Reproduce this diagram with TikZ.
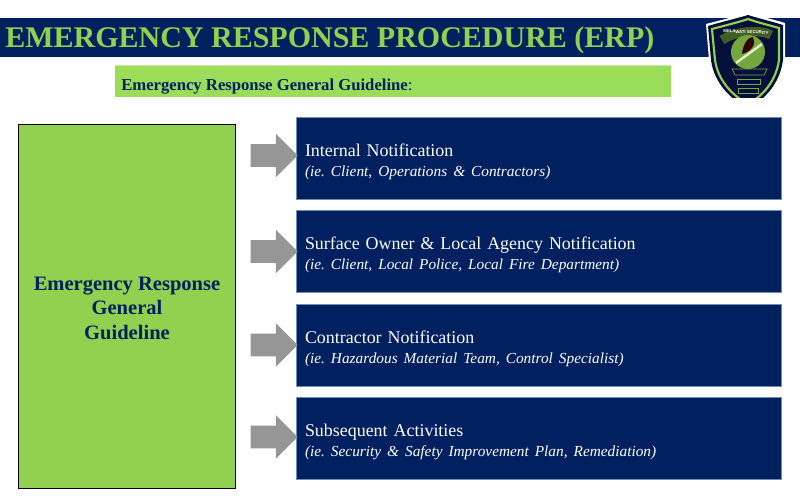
\documentclass[tikz,border=0pt]{standalone}
\usepackage{fontspec}
\setmainfont{Liberation Serif}
\setsansfont{Liberation Sans}
\usetikzlibrary{shapes.arrows}
\definecolor{navy}{HTML}{002060}
\definecolor{leaf}{HTML}{92D050}
\definecolor{leaflight}{HTML}{9BDC58}
\definecolor{edgeblue}{HTML}{6F8DB5}
\definecolor{crest}{HTML}{05103A}
\frenchspacing
\begin{document}
\begin{tikzpicture}[
x=0.75pt,y=-0.75pt,
banner/.style={rectangle,fill=navy,draw=none,inner sep=0pt,minimum width=600pt,minimum height=29.25pt},
heading/.style={font=\bfseries\fontsize{22.5}{26}\selectfont,text=leaf,inner sep=0pt,anchor=base west},
subbar/.style={rectangle,fill=leaflight,draw=none,inner sep=0pt,minimum width=417pt,minimum height=23.25pt},
guide/.style={rectangle,fill=leaf,draw=black,semithick,inner sep=0pt,minimum width=162.75pt,minimum height=273pt,align=center,text=navy,font=\bfseries\fontsize{15.4}{18.6}\selectfont},
notice/.style={rectangle,fill=navy,draw=edgeblue,semithick,inner sep=0pt,minimum width=363.75pt,minimum height=61.5pt,text width=350.25pt,align=left,text=white,font=\fontsize{13.45}{15}\selectfont},
flow/.style={single arrow,fill=black!41,draw=none,inner xsep=0pt,inner ysep=8.25pt,single arrow head extend=7.9pt,single arrow tip angle=90,minimum height=35.25pt},
ribbon/.style={draw=leaf!80!black,fill=crest,line width=0.5pt}
]
\useasboundingbox (0,0) rectangle (800,500);
\node[banner] (bar) at (400,37.5) {};
\node[heading] (title) at (5,47.5) {EMERGENCY RESPONSE PROCEDURE (ERP)};
\node[subbar] (sub) at (393,81.5) {};
\draw[leaflight!55!white,line width=1pt] (sub.north west) -- (sub.north east);
\node[anchor=base west,inner sep=0pt,text=navy,font=\fontsize{12.5}{14}\selectfont] (subtext) at (121,90) {\textbf{Emergency Response General Guideline}:};

\node[guide] (main) at (127,306) {\rule{0pt}{13.5pt}Emergency Response\\General\\Guideline};

\node[notice] (n1) at (538.5,158.5) {\rule{0pt}{14.5pt}Internal Notification\\{\itshape\fontsize{11.5}{13}\selectfont (ie. Client, Operations \& Contractors)}};
\node[notice] (n2) at (538.5,251.5) {\rule{0pt}{14.5pt}Surface Owner \& Local Agency Notification\\{\itshape\fontsize{11.5}{13}\selectfont (ie. Client, Local Police, Local Fire Department)}};
\node[notice] (n3) at (538.5,345) {\rule{0pt}{14.5pt}Contractor Notification\\{\itshape\fontsize{11.5}{13}\selectfont (ie. Hazardous Material Team, Control Specialist)}};
\node[notice] (n4) at (538.5,438) {\rule{0pt}{14.5pt}Subsequent Activities\\{\itshape\fontsize{11.5}{13}\selectfont (ie. Security \& Safety Improvement Plan, Remediation)}};

\node[flow] (a1) at (268.5,155.5) {};
\node[flow] (a2) at (268.5,251.5) {};
\node[flow] (a3) at (268.5,345) {};
\node[flow] (a4) at (268.5,437) {};

% crest
\begin{scope}
\clip (700,0) rectangle (800,97);
\fill[white] (706,24) .. controls (725,19) and (742,15) .. (748,13) .. controls (754,15) and (772,19) .. (785,23) -- (785,60) .. controls (782,85) and (765,102) .. (748,110) .. controls (731,102) and (712,85) .. (709,60) -- cycle;
\fill[crest] (708,26) .. controls (725,21) and (742,17) .. (748,15) .. controls (754,17) and (770,21) .. (783,25) -- (783,60) .. controls (780,83) and (765,100) .. (748,108) .. controls (731,100) and (714,83) .. (711,60) -- cycle;
\draw[leaf,line width=1.6pt] (712,29) .. controls (727,25) and (743,21) .. (748,19) .. controls (753,21) and (768,25) .. (779,28) -- (779,60) .. controls (776,81) and (763,96) .. (748,104) .. controls (733,96) and (718,81) .. (715,60) -- cycle;
\draw[leaf!45!black,line width=7pt] (722,40) .. controls (735,31) and (760,29) .. (771,35);
\node[text=white,font=\fontsize{3.2}{4}\bfseries\sffamily,rotate=-2,inner sep=0pt] (crestname) at (746,32) {MELAWATI SECURITY};
\fill[leaf!80!black] (748,52) circle (17);
\draw[leaf!30!white,line width=1.8pt] (736,63) -- (762,44);
\fill[black!80!red] (742,54) .. controls (743,44) and (748,37) .. (753,37) .. controls (756,43) and (753,51) .. (742,54) -- cycle;
\draw[ribbon] (732,69) -- (767,69) -- (764,75) -- (735,75) -- cycle;
\draw[ribbon] (737,79) -- (760,79) -- (760,84) -- (737,84) -- cycle;
\draw[ribbon] (738,88) -- (758,88) -- (758,93) -- (738,93) -- cycle;
\end{scope}
\end{tikzpicture}
\end{document}
